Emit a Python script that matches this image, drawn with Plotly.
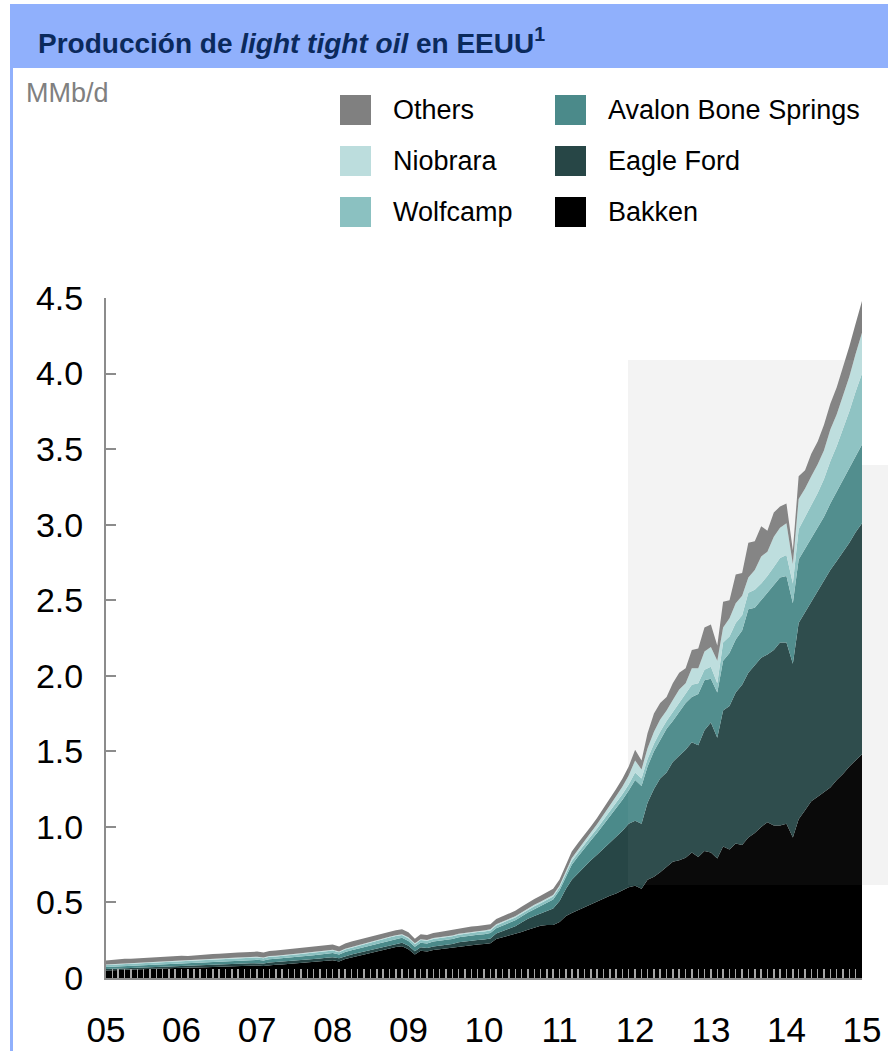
import pandas as pd
import plotly.graph_objects as go

months = pd.date_range("2005-01-01", "2015-01-01", freq="MS")

bakken = [
    0.050, 0.052, 0.053, 0.055, 0.056, 0.057, 0.058, 0.060, 0.062, 0.063, 0.065, 0.066,
    0.068, 0.068, 0.069, 0.070, 0.071, 0.072, 0.074, 0.075, 0.076, 0.078, 0.080, 0.082,
    0.083, 0.080, 0.085, 0.088, 0.090, 0.093, 0.096, 0.100, 0.103, 0.106, 0.110, 0.114,
    0.118, 0.110, 0.125, 0.135, 0.145, 0.155, 0.165, 0.175, 0.185, 0.195, 0.205, 0.210,
    0.190, 0.155, 0.180, 0.175, 0.185, 0.190, 0.195, 0.200, 0.210, 0.215, 0.220, 0.222,
    0.225, 0.230, 0.258, 0.270, 0.280, 0.290, 0.305, 0.320, 0.335, 0.345, 0.350, 0.350,
    0.370, 0.410, 0.430, 0.450, 0.470, 0.490, 0.505, 0.525, 0.545, 0.560, 0.580, 0.600,
    0.610, 0.590, 0.650, 0.670, 0.700, 0.735, 0.770, 0.780, 0.795, 0.830, 0.800, 0.840,
    0.830, 0.790, 0.870, 0.850, 0.890, 0.880, 0.930, 0.960, 1.000, 1.030, 1.010, 1.010,
    1.020, 0.930, 1.050, 1.110, 1.170, 1.200, 1.230, 1.260, 1.310, 1.350, 1.400, 1.440,
    1.480,
]
eagle_ford = [
    0.010, 0.010, 0.011, 0.011, 0.011, 0.012, 0.012, 0.012, 0.012, 0.013, 0.013, 0.013,
    0.013, 0.013, 0.014, 0.014, 0.014, 0.015, 0.015, 0.015, 0.015, 0.016, 0.016, 0.016,
    0.016, 0.016, 0.017, 0.017, 0.017, 0.018, 0.018, 0.018, 0.019, 0.019, 0.019, 0.020,
    0.020, 0.020, 0.020, 0.021, 0.021, 0.021, 0.022, 0.022, 0.022, 0.023, 0.023, 0.023,
    0.023, 0.022, 0.023, 0.023, 0.024, 0.024, 0.025, 0.025, 0.026, 0.027, 0.028, 0.029,
    0.030, 0.032, 0.036, 0.040, 0.046, 0.053, 0.062, 0.072, 0.075, 0.080, 0.095, 0.110,
    0.140, 0.180, 0.220, 0.245, 0.270, 0.290, 0.310, 0.330, 0.345, 0.370, 0.395, 0.420,
    0.430, 0.430, 0.510, 0.580, 0.620, 0.625, 0.660, 0.690, 0.715, 0.730, 0.740, 0.800,
    0.860, 0.800, 0.900, 0.950, 1.000, 1.060, 1.090, 1.110, 1.120, 1.110, 1.160, 1.210,
    1.200, 1.150, 1.300, 1.310, 1.320, 1.360, 1.400, 1.440, 1.450, 1.470, 1.480, 1.510,
    1.530,
]
avalon = [
    0.013, 0.013, 0.014, 0.014, 0.014, 0.015, 0.015, 0.015, 0.016, 0.016, 0.016, 0.017,
    0.017, 0.017, 0.018, 0.018, 0.018, 0.019, 0.019, 0.020, 0.020, 0.020, 0.021, 0.021,
    0.021, 0.020, 0.022, 0.022, 0.023, 0.023, 0.024, 0.024, 0.025, 0.025, 0.026, 0.026,
    0.027, 0.025, 0.027, 0.028, 0.028, 0.029, 0.030, 0.030, 0.031, 0.032, 0.032, 0.033,
    0.032, 0.030, 0.031, 0.031, 0.032, 0.032, 0.033, 0.033, 0.033, 0.034, 0.034, 0.035,
    0.035, 0.035, 0.036, 0.037, 0.038, 0.039, 0.040, 0.042, 0.045, 0.050, 0.055, 0.060,
    0.070, 0.085, 0.100, 0.110, 0.120, 0.130, 0.145, 0.160, 0.180, 0.195, 0.205, 0.220,
    0.270, 0.250, 0.240, 0.250, 0.250, 0.290, 0.270, 0.290, 0.310, 0.300, 0.340, 0.330,
    0.290, 0.300, 0.330, 0.350, 0.350, 0.360, 0.420, 0.380, 0.380, 0.410, 0.430, 0.430,
    0.440, 0.400, 0.420, 0.420, 0.420, 0.420, 0.420, 0.440, 0.460, 0.480, 0.500, 0.510,
    0.520,
]
wolfcamp = [
    0.013, 0.013, 0.013, 0.014, 0.014, 0.014, 0.014, 0.014, 0.015, 0.015, 0.015, 0.015,
    0.015, 0.015, 0.015, 0.015, 0.016, 0.016, 0.016, 0.016, 0.016, 0.016, 0.016, 0.016,
    0.016, 0.015, 0.016, 0.016, 0.016, 0.017, 0.017, 0.017, 0.017, 0.017, 0.017, 0.017,
    0.017, 0.016, 0.017, 0.017, 0.018, 0.018, 0.018, 0.018, 0.018, 0.018, 0.018, 0.018,
    0.018, 0.017, 0.017, 0.017, 0.017, 0.018, 0.018, 0.018, 0.018, 0.018, 0.018, 0.018,
    0.018, 0.018, 0.018, 0.019, 0.019, 0.019, 0.019, 0.019, 0.020, 0.020, 0.020, 0.020,
    0.020, 0.022, 0.024, 0.025, 0.027, 0.028, 0.030, 0.032, 0.033, 0.035, 0.038, 0.040,
    0.050, 0.050, 0.050, 0.050, 0.060, 0.050, 0.060, 0.060, 0.060, 0.080, 0.070, 0.070,
    0.080, 0.060, 0.120, 0.110, 0.110, 0.100, 0.110, 0.120, 0.110, 0.110, 0.120, 0.130,
    0.140, 0.130, 0.200, 0.210, 0.220, 0.230, 0.250, 0.280, 0.300, 0.330, 0.370, 0.420,
    0.470,
]
niobrara = [
    0.004, 0.004, 0.004, 0.004, 0.004, 0.004, 0.004, 0.004, 0.004, 0.004, 0.004, 0.004,
    0.005, 0.005, 0.005, 0.005, 0.005, 0.005, 0.005, 0.005, 0.005, 0.005, 0.005, 0.005,
    0.005, 0.005, 0.005, 0.005, 0.005, 0.005, 0.005, 0.005, 0.005, 0.005, 0.005, 0.005,
    0.005, 0.005, 0.005, 0.005, 0.005, 0.005, 0.005, 0.005, 0.005, 0.005, 0.005, 0.005,
    0.006, 0.006, 0.006, 0.006, 0.006, 0.006, 0.006, 0.006, 0.006, 0.006, 0.006, 0.006,
    0.007, 0.007, 0.007, 0.007, 0.008, 0.008, 0.008, 0.008, 0.009, 0.009, 0.010, 0.010,
    0.012, 0.015, 0.018, 0.020, 0.022, 0.025, 0.028, 0.032, 0.036, 0.042, 0.050, 0.060,
    0.080, 0.060, 0.070, 0.080, 0.080, 0.070, 0.080, 0.090, 0.070, 0.110, 0.100, 0.120,
    0.130, 0.150, 0.100, 0.120, 0.130, 0.130, 0.100, 0.130, 0.180, 0.160, 0.200, 0.200,
    0.210, 0.130, 0.200, 0.190, 0.190, 0.190, 0.190, 0.210, 0.210, 0.220, 0.230, 0.250,
    0.270,
]
others = [
    0.025, 0.027, 0.030, 0.029, 0.028, 0.028, 0.029, 0.030, 0.029, 0.030, 0.030, 0.030,
    0.029, 0.028, 0.029, 0.030, 0.031, 0.032, 0.032, 0.031, 0.032, 0.033, 0.032, 0.033,
    0.034, 0.032, 0.034, 0.034, 0.035, 0.036, 0.035, 0.034, 0.035, 0.035, 0.034, 0.034,
    0.034, 0.033, 0.035, 0.036, 0.036, 0.035, 0.034, 0.034, 0.033, 0.033, 0.033, 0.033,
    0.033, 0.030, 0.033, 0.033, 0.034, 0.034, 0.034, 0.035, 0.035, 0.034, 0.034, 0.034,
    0.034, 0.034, 0.035, 0.035, 0.036, 0.036, 0.037, 0.038, 0.039, 0.040, 0.040, 0.040,
    0.040, 0.042, 0.045, 0.045, 0.043, 0.040, 0.040, 0.042, 0.045, 0.048, 0.052, 0.060,
    0.070, 0.060, 0.100, 0.120, 0.110, 0.090, 0.110, 0.110, 0.100, 0.120, 0.130, 0.160,
    0.150, 0.100, 0.170, 0.120, 0.190, 0.150, 0.230, 0.190, 0.200, 0.140, 0.160, 0.140,
    0.130, 0.090, 0.150, 0.120, 0.150, 0.150, 0.170, 0.170, 0.180, 0.190, 0.200, 0.200,
    0.210,
]

series_names = ["Bakken", "Eagle Ford", "Avalon Bone Springs", "Wolfcamp", "Niobrara", "Others"]
series_values = [bakken, eagle_ford, avalon, wolfcamp, niobrara, others]
series_colors = ["#000000", "#274646", "#4b8a8a", "#8bc1c1", "#bcdddd", "#808080"]

year_ticks = pd.date_range("2005-01-01", "2015-01-01", freq="YS")
year_labels = ["05", "06", "07", "08", "09", "10", "11", "12", "13", "14", "15"]
y_ticks = [0, 0.5, 1.0, 1.5, 2.0, 2.5, 3.0, 3.5, 4.0, 4.5]
y_labels = ["0", "0.5", "1.0", "1.5", "2.0", "2.5", "3.0", "3.5", "4.0", "4.5"]

# legend layout (display order, two columns)
legend_order = ["Others", "Niobrara", "Wolfcamp", "Avalon Bone Springs", "Eagle Ford", "Bakken"]

FONT = "Liberation Sans, Arial, sans-serif"
W, H = 888, 1051
L, R, T, B = 106, 26, 298, 73
PW, PH = W - L - R, H - T - B


def px(x):
    return (x - L) / PW


def py(y):
    return (H - B - y) / PH


fig = go.Figure()
for name, vals, col in zip(series_names, series_values, series_colors):
    fig.add_trace(go.Scatter(
        x=months, y=vals, name=name, stackgroup="one", mode="lines",
        line=dict(width=0, color=col), fillcolor=col, showlegend=False,
        hoverinfo="skip",
    ))

shapes = []
# light grey background boxes
shapes.append(dict(type="rect", xref="paper", yref="paper", layer="below",
                   x0=px(628), x1=px(862), y0=py(885), y1=py(360),
                   fillcolor="#f3f3f3", line=dict(width=0)))
shapes.append(dict(type="rect", xref="paper", yref="paper", layer="below",
                   x0=px(862), x1=px(888), y0=py(885), y1=py(465),
                   fillcolor="#f3f3f3", line=dict(width=0)))
shapes.append(dict(type="rect", xref="paper", yref="paper", layer="above",
                   x0=px(628), x1=px(862), y0=py(885), y1=py(360),
                   fillcolor="rgba(255,255,255,0.04)", line=dict(width=0)))
# title bar + left border
shapes.append(dict(type="rect", xref="paper", yref="paper", layer="above",
                   x0=px(10), x1=px(888), y0=py(68), y1=py(4),
                   fillcolor="#90b0fc", line=dict(width=0)))
shapes.append(dict(type="rect", xref="paper", yref="paper", layer="above",
                   x0=px(10), x1=px(13), y0=py(1051), y1=py(68),
                   fillcolor="#90b0fc", line=dict(width=0)))

annotations = [
    dict(xref="paper", yref="paper", x=px(36), y=py(41), xanchor="left", yanchor="middle",
         text="<b>Producción de <i>light tight oil</i> en EEUU<sup>1</sup></b>",
         showarrow=False, font=dict(family=FONT, size=28, color="#0b2a5c")),
    dict(xref="paper", yref="paper", x=px(24), y=py(93), xanchor="left", yanchor="middle",
         text="MMb/d", showarrow=False, font=dict(family=FONT, size=27, color="#808080")),
]

col_x = [340, 555]
row_y = [110, 161, 212]
color_of = dict(zip(series_names, series_colors))
for i, name in enumerate(legend_order):
    c, r = divmod(i, 3)
    sx, sy = col_x[c], row_y[r]
    shapes.append(dict(type="rect", xref="paper", yref="paper",
                       x0=px(sx), x1=px(sx + 31), y0=py(sy + 15), y1=py(sy - 15),
                       fillcolor=color_of[name], line=dict(width=0)))
    annotations.append(dict(xref="paper", yref="paper", x=px(sx + 51), y=py(sy),
                            xanchor="left", yanchor="middle", text=name, showarrow=False,
                            font=dict(family=FONT, size=27, color="#000000")))

fig.update_layout(
    width=W, height=H,
    margin=dict(l=L, r=R, t=T, b=B, autoexpand=False),
    paper_bgcolor="white", plot_bgcolor="rgba(0,0,0,0)",
    shapes=shapes, annotations=annotations,
    font=dict(family=FONT, color="#000000"),
    showlegend=False,
)
fig.update_xaxes(
    automargin=False,
    range=[months[0], months[-1]],
    tickvals=year_ticks, ticktext=year_labels,
    ticks="inside", ticklen=9, tickwidth=1.5, tickcolor="#a6a6a6",
    minor=dict(dtick="M1", tick0="2005-01-01", ticks="inside", ticklen=9,
               tickwidth=1.5, tickcolor="#a6a6a6", showgrid=False),
    showline=True, linecolor="#8c8c8c", linewidth=2,
    showgrid=False, zeroline=False,
    tickfont=dict(family=FONT, size=35, color="#000000"),
    ticklabelstandoff=20,
)
fig.update_yaxes(
    automargin=False,
    range=[0, 4.5],
    tickvals=y_ticks, ticktext=y_labels,
    ticks="inside", ticklen=10, tickwidth=2, tickcolor="#8c8c8c",
    showline=True, linecolor="#8c8c8c", linewidth=2,
    showgrid=False, zeroline=False,
    tickfont=dict(family=FONT, size=34, color="#000000"),
    ticklabelstandoff=14,
)

fig.write_html(
    "out.html",
    config={"displayModeBar": False, "staticPlot": True},
    post_script="document.body.style.margin='0';document.body.style.overflow='hidden';",
)
